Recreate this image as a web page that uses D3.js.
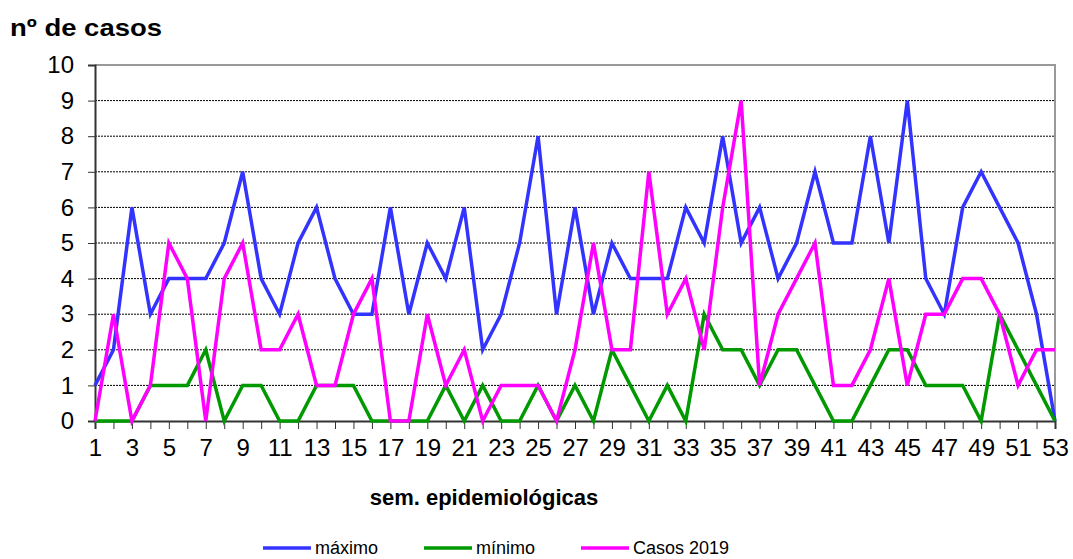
<!DOCTYPE html>
<html>
<head>
<meta charset="utf-8">
<script src="https://cdn.jsdelivr.net/npm/d3@7"></script>
<style>
  body { margin: 0; background: #fff; }
  text { font-family: "Liberation Sans", Arial, sans-serif; fill: #000; }
</style>
</head>
<body>
<script>
// semanas epidemiológicas 1..53
const semanas = d3.range(1, 54)
const maximo = [1, 2, 6, 3, 4, 4, 4, 5, 7, 4, 3, 5, 6, 4, 3, 3, 6, 3, 5, 4, 6, 2, 3, 5, 8, 3, 6, 3, 5, 4, 4, 4, 6, 5, 8, 5, 6, 4, 5, 7, 5, 5, 8, 5, 9, 4, 3, 6, 7, 6, 5, 3, 0]
const minimo = [0, 0, 0, 1, 1, 1, 2, 0, 1, 1, 0, 0, 1, 1, 1, 0, 0, 0, 0, 1, 0, 1, 0, 0, 1, 0, 1, 0, 2, 1, 0, 1, 0, 3, 2, 2, 1, 2, 2, 1, 0, 0, 1, 2, 2, 1, 1, 1, 0, 3, 2, 1, 0]
const casos2019 = [0, 3, 0, 1, 5, 4, 0, 4, 5, 2, 2, 3, 1, 1, 3, 4, 0, 0, 3, 1, 2, 0, 1, 1, 1, 0, 2, 5, 2, 2, 7, 3, 4, 2, 6, 9, 1, 3, 4, 5, 1, 1, 2, 4, 1, 3, 3, 4, 4, 3, 1, 2, 2]
const yTicks = d3.range(0, 11)

const series = [
  { name: 'máximo', values: maximo, color: '#3333ff' },
  { name: 'mínimo', values: minimo, color: '#009900' },
  { name: 'Casos 2019', values: casos2019, color: '#ff00ff' }
]

const W = 1073, H = 559
const plot = { left: 95, right: 1055, top: 65, bottom: 421 }

const svg = d3.select('body').append('svg')
  .attr('width', W)
  .attr('height', H)

const x = d3.scaleLinear().domain([1, 53]).range([plot.left, plot.right])
const y = d3.scaleLinear().domain([0, 10]).range([plot.bottom, plot.top])

// linhas de grade pontilhadas
svg.append('g')
  .selectAll('line')
  .data(yTicks.filter(d => d > 0 && d < 10))
  .join('line')
  .attr('x1', plot.left).attr('x2', plot.right)
  .attr('y1', d => y(d)).attr('y2', d => y(d))
  .attr('stroke', '#000')
  .attr('stroke-width', 1)
  .attr('stroke-dasharray', '2,1')

// borda superior e direita (cinza)
svg.append('path')
  .attr('d', `M${plot.left},${plot.top}H${plot.right}V${plot.bottom}`)
  .attr('fill', 'none')
  .attr('stroke', '#999')
  .attr('stroke-width', 2)

// eixo Y
const yAxis = svg.append('g')
  .attr('transform', `translate(${plot.left},0)`)
  .call(d3.axisLeft(y).tickValues(yTicks).tickSize(7).tickPadding(14))
yAxis.select('.domain').attr('stroke', '#333').attr('stroke-width', 2)
yAxis.selectAll('.tick line').attr('stroke', '#333')
yAxis.selectAll('text').style('font-size', '24px').attr('fill', '#000')

// eixo X
const xAxis = svg.append('g')
  .attr('transform', `translate(0,${plot.bottom})`)
  .call(d3.axisBottom(x).tickValues(semanas).tickSize(8).tickFormat(d => d % 2 === 1 ? d : ''))
xAxis.select('.domain').attr('stroke', '#333').attr('stroke-width', 2)
xAxis.selectAll('.tick line').attr('stroke', '#333')
xAxis.selectAll('text').style('font-size', '24px').attr('fill', '#000').attr('y', 18)

// séries
const line = d3.line()
  .x((d, i) => x(semanas[i]))
  .y(d => y(d))

svg.append('g')
  .selectAll('path')
  .data(series)
  .join('path')
  .attr('d', d => line(d.values))
  .attr('fill', 'none')
  .attr('stroke', d => d.color)
  .attr('stroke-width', 3.5)
  .attr('stroke-linejoin', 'miter')

// títulos
svg.append('text')
  .attr('x', 10).attr('y', 36)
  .attr('textLength', 152).attr('lengthAdjust', 'spacingAndGlyphs')
  .style('font-size', '24px').style('font-weight', 'bold')
  .text('nº de casos')

svg.append('text')
  .attr('x', 484).attr('y', 505)
  .attr('text-anchor', 'middle')
  .style('font-size', '22px').style('font-weight', 'bold')
  .text('sem. epidemiológicas')

// legenda
const legX = [263, 424, 581]
const leg = svg.append('g')
  .selectAll('g')
  .data(series)
  .join('g')
  .attr('transform', (d, i) => `translate(${legX[i]},548)`)
leg.append('line')
  .attr('x1', 0).attr('x2', 48)
  .attr('stroke', d => d.color)
  .attr('stroke-width', 3.5)
leg.append('text')
  .attr('x', 52).attr('dy', '0.35em')
  .style('font-size', '18px')
  .text(d => d.name)
</script>
</body>
</html>
